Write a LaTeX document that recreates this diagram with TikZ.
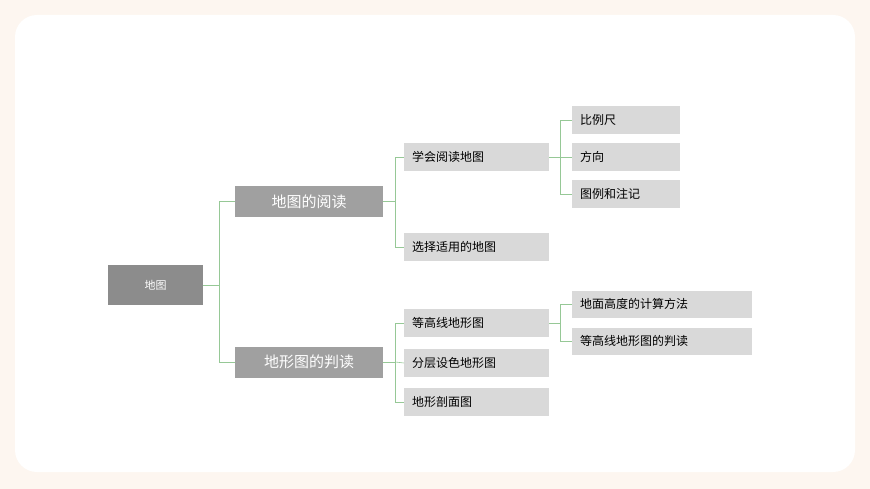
\documentclass[tikz,border=0pt]{standalone}
\usepackage{fontspec}
\setmainfont{Noto Sans CJK SC}
\usetikzlibrary{positioning}
\definecolor{rootfill}{RGB}{140,140,140}
\definecolor{midfill}{RGB}{160,160,160}
\definecolor{leaffill}{RGB}{217,217,217}
\definecolor{linkgreen}{RGB}{150,200,150}
\definecolor{pagebg}{RGB}{253,246,240}
\tikzset{
  rootbox/.style={fill=rootfill, text=white, minimum width=95pt, minimum height=40pt, inner sep=0pt, font=\fontsize{11}{13}\selectfont},
  topicbox/.style={fill=midfill, text=white, minimum width=148pt, minimum height=31pt, inner sep=0pt, font=\fontsize{15}{17}\selectfont},
  leafbox/.style={fill=leaffill, text=black, anchor=west, text width=#1, align=left, minimum height=28pt, inner sep=0pt, inner xsep=8pt, font=\fontsize{12}{14}\selectfont},
  leafbox/.default=129pt,
  link/.style={draw=linkgreen, line width=0.6pt}
}
\begin{document}
\begin{tikzpicture}[x=1pt, y=-1pt]
  \useasboundingbox (0,0) rectangle (870,489);
  % page background
  \fill[pagebg] (0,0) rectangle (870,489);
  \fill[white, rounded corners=22pt] (15,15) rectangle (855,472);

  % root and topics
  \node[rootbox] (map) at (155.5,285) {地图};
  \node[topicbox] (read) at (309,201.5) {地图的阅读};
  \node[topicbox] (terrain) at (309,362) {地形图的判读};

  % second level
  \node[leafbox] (learn) at (404,157) {学会阅读地图};
  \node[leafbox] (choose) at (404,247) {选择适用的地图};
  \node[leafbox] (contour) at (404,323) {等高线地形图};
  \node[leafbox] (layer) at (404,363) {分层设色地形图};
  \node[leafbox] (section) at (404,402) {地形剖面图};

  % third level
  \node[leafbox=92pt] (scale) at (572,120) {比例尺};
  \node[leafbox=92pt] (dir) at (572,157) {方向};
  \node[leafbox=92pt] (legend) at (572,194) {图例和注记};
  \node[leafbox=164pt, minimum height=27pt] (height) at (572,304) {地面高度的计算方法};
  \node[leafbox=164pt, minimum height=27pt] (judge) at (572,341) {等高线地形图的判读};

  % connectors
  \draw[link] (map.east) -- ++(16,0) coordinate (j0);
  \draw[link] (read.west) -| (j0) |- (terrain.west);
  \draw[link] (read.east) -- ++(12,0) coordinate (j1);
  \draw[link] (learn.west) -| (j1) |- (choose.west);
  \draw[link] (terrain.east) -- ++(12,0) coordinate (j2);
  \draw[link] (contour.west) -| (j2) |- (section.west);
  \draw[link] (j2) -- (layer.west);
  \draw[link] (learn.east) -- ++(11,0) coordinate (j3);
  \draw[link] (scale.west) -| (j3) |- (legend.west);
  \draw[link] (j3) -- (dir.west);
  \draw[link] (contour.east) -- ++(11,0) coordinate (j4);
  \draw[link] (height.west) -| (j4) |- (judge.west);
\end{tikzpicture}
\end{document}
